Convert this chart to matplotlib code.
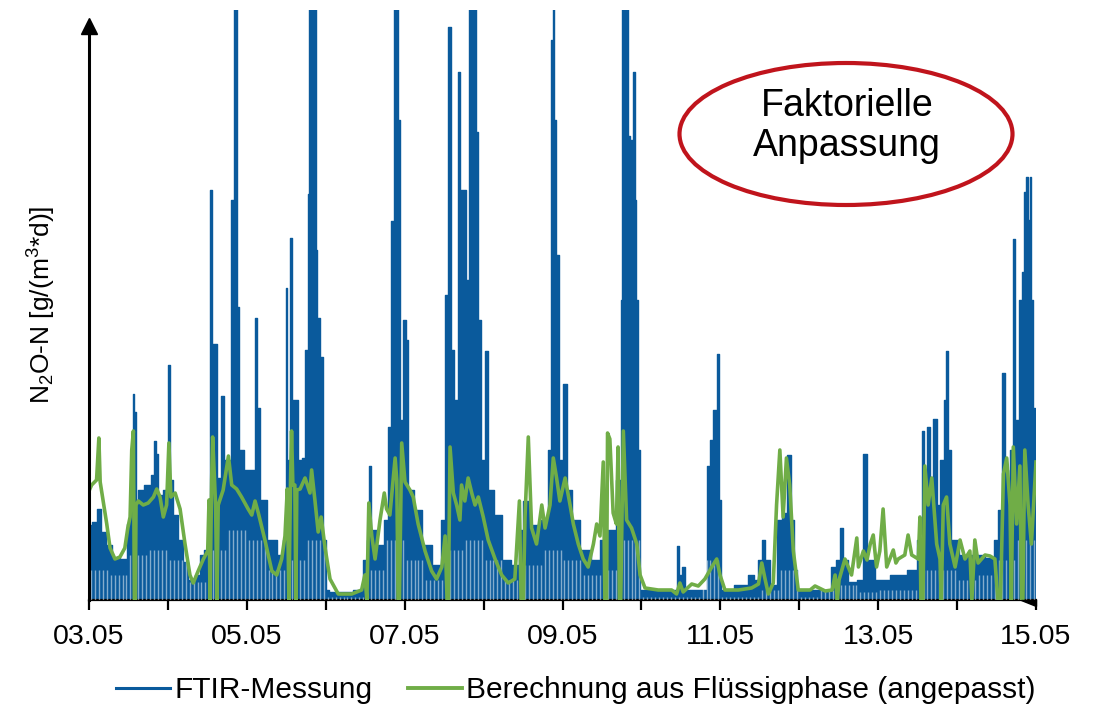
import matplotlib
matplotlib.use('Agg')
import matplotlib.pyplot as plt
from matplotlib.patches import Ellipse, Polygon
from matplotlib.lines import Line2D
import numpy as np

plt.rcParams['font.family'] = ['Liberation Sans', 'DejaVu Sans']
plt.rcParams['mathtext.fontset'] = 'custom'
plt.rcParams['mathtext.rm'] = 'Liberation Sans'
plt.rcParams['mathtext.it'] = 'Liberation Sans:italic'

# ---------------- data ----------------
tick_labels = ['03.05', '05.05', '07.05', '09.05', '11.05', '13.05', '15.05']

# FTIR measurement (upper envelope), hours since 03.05 00:00
ftir_hours = [0.0, 1.8, 3.3, 4.3, 5.9, 7.9, 10.9, 12.0, 13.0, 13.5, 14.0, 14.5, 15.5, 18.0, 19.6, 20.1, 20.6, 21.6,
              23.6, 24.3, 24.8, 26.2, 27.7, 29.2, 31.2, 33.2, 34.3, 35.8, 36.6, 37.3, 37.6, 38.3, 39.3, 40.7, 41.4,
              42.9, 43.7, 44.2, 44.9, 45.4, 46.1, 48.4, 50.0, 50.7, 51.2, 51.7, 52.5, 55.6, 58.6, 59.6, 60.1, 60.6,
              61.4, 61.9, 62.9, 64.2, 65.2, 66.2, 66.7, 67.2, 68.7, 69.2, 69.7, 70.8, 71.6, 72.3, 73.8, 77.9, 82.9,
              83.9, 84.9, 85.5, 86.2, 89.0, 90.5, 91.5, 92.4, 93.1, 93.9, 94.3, 94.9, 96.1, 96.6, 97.6, 100.1, 102.2,
              106.2, 107.7, 108.8, 109.8, 110.3, 111.8, 112.6, 113.3, 114.3, 115.2, 115.9, 117.4, 117.9, 118.4, 119.9,
              120.9, 121.6, 124.5, 126.5, 130.1, 131.6, 132.6, 135.6, 138.7, 140.2, 140.9, 141.3, 141.7, 142.4, 143.2,
              145.0, 146.0, 147.8, 150.8, 154.4, 156.4, 159.0, 161.5, 162.0, 162.3, 163.6, 164.2, 165.0, 165.7, 166.3,
              166.7, 167.3, 167.9, 178.7, 179.2, 179.7, 180.7, 181.8, 187.8, 188.3, 189.4, 190.4, 191.4, 192.0, 192.6,
              199.5, 201.5, 203.0, 204.1, 205.1, 206.1, 208.1, 210.1, 211.7, 212.9, 213.9, 214.9, 215.7, 224.8, 226.3,
              227.9, 228.9, 229.7, 231.9, 235.0, 235.8, 236.4, 237.0, 241.1, 246.1, 251.2, 252.7, 253.7, 254.4, 255.2,
              256.3, 257.3, 258.3, 259.5, 260.3, 260.8, 261.5, 262.8, 266.4, 270.4, 274.5, 276.0, 277.0, 278.1, 278.9,
              279.8, 280.6, 281.4, 282.1, 283.4, 284.1, 284.6, 285.3, 285.9, 286.3, 286.9, 287.4, 288.0]
ftir_values = [7.5, 7.8, 9.1, 6.8, 5.5, 4.2, 4.1, 7.6, 10.0, 20.6, 18.8, 10.0, 11.0, 11.5, 12.5, 15.9, 14.6, 10.5,
               11.0, 23.5, 12.0, 8.5, 6.0, 3.8, 2.0, 2.5, 4.5, 5.0, 9.5, 41.0, 25.6, 25.6, 12.2, 20.4, 14.0,
               14.0, 40.0, 70.0, 70.0, 29.3, 15.0, 13.0, 13.0, 28.2, 15.0, 19.2, 10.0, 6.0, 4.5, 6.0, 31.2, 14.0,
               36.2, 20.0, 20.0, 14.0, 14.2, 25.0, 40.6, 70.0, 70.0, 35.0, 28.2, 24.3, 6.0, 1.0, 0.8, 0.8, 1.0,
               4.0, 6.0, 13.4, 7.0, 5.5, 8.0, 17.3, 37.9, 70.0, 70.0, 48.0, 18.0, 28.0, 26.0, 11.0, 9.0, 5.5,
               3.5, 8.0, 30.5, 57.3, 25.0, 20.0, 52.8, 41.0, 41.0, 32.0, 70.0, 70.0, 46.8, 28.0, 14.0,
               24.9, 11.0, 8.5, 4.0, 3.5, 7.0, 9.9, 7.5, 8.0, 15.0, 56.0, 70.0, 48.0, 34.5, 14.0,
               21.6, 11.0, 8.0, 5.0, 4.0, 6.0, 7.0, 12.0, 30.0, 70.0, 70.0, 46.4, 46.0, 52.8, 40.0,
               30.0, 15.0, 1.0, 1.0, 5.4, 2.5, 3.3, 1.0, 1.0, 13.4, 16.0, 19.0, 24.6, 10.0, 1.0,
               1.5, 2.5, 2.0, 4.0, 6.0, 4.0, 1.5, 8.0, 8.7, 14.5, 8.0, 3.0, 1.0, 1.0, 3.3,
               4.0, 7.2, 4.0, 1.8, 2.0, 14.6, 14.6, 4.0, 2.0, 2.5, 3.0, 6.0, 16.9, 11.0, 17.3,
               12.0, 18.1, 9.5, 14.0, 20.0, 24.9, 15.0, 6.0, 4.5, 4.5, 4.2, 6.0, 9.0, 22.7, 13.0,
               6.0, 15.0, 36.1, 18.0, 30.0, 32.8, 40.8, 42.3, 38.0, 42.3, 30.0, 19.2, 9.1]

# depth of the low readings between FTIR measurements, per 6-hour block
ftir_low = [3.0, 2.5, 4.5, 5.0, 4.0, 1.8, 5.0, 7.0, 6.0, 3.0, 4.0, 6.0,
            0.3, 0.3, 3.0, 6.0, 4.0, 2.0, 5.0, 6.0, 4.0, 2.0, 3.5, 5.0,
            4.0, 2.5, 3.0, 6.0, 0.3, 0.3, 0.3, 4.0, 0.3, 0.3, 1.0, 3.0,
            0.3, 1.0, 1.5, 0.8, 1.0, 1.0, 3.0, 3.0, 2.0, 2.5, 4.0, 6.0]

# calculation from liquid phase (adjusted)
calc_hours = [0.0, 0.8, 2.3, 3.0, 3.4, 4.3, 5.4, 6.4, 7.9, 9.4, 10.9, 11.8, 12.5, 13.0, 13.5, 13.8, 14.1, 14.3,
              15.0, 16.5, 18.0, 19.6, 20.6, 21.6, 22.6, 23.6, 24.3, 24.9, 26.2, 27.7, 29.2, 30.7, 31.7, 33.2,
              34.8, 36.1, 36.5, 36.8, 37.3, 37.6, 38.5, 38.9, 39.3, 40.8, 42.4, 43.4, 44.9, 46.4, 48.4, 49.5,
              50.5, 51.5, 53.5, 55.6, 57.1, 58.6, 59.6, 60.3, 60.8, 61.3, 61.6, 62.0, 62.6, 62.9, 63.2, 64.2,
              65.7, 67.2, 67.7, 68.7, 69.7, 70.6, 71.8, 73.3, 75.8, 79.9, 82.9, 83.9, 84.5, 85.1, 86.0, 87.0,
              88.5, 89.8, 90.5, 91.5, 93.1, 93.6, 94.0, 94.4, 95.1, 96.1, 97.6, 98.6, 100.1, 102.2, 104.2,
              105.7, 107.3, 108.3, 108.9, 109.3, 109.8, 110.8, 111.8, 112.8, 113.3, 114.3, 115.3, 116.4, 117.4,
              118.4, 119.9, 121.4, 123.5, 125.5, 127.5, 129.5, 130.9, 131.4, 132.1, 132.6, 133.6, 134.6, 136.1,
              137.7, 138.7, 140.2, 141.2, 142.2, 143.2, 144.8, 146.3, 147.3, 148.8, 150.3, 151.8, 153.4, 154.4,
              155.4, 156.4, 156.9, 157.4, 157.7, 158.4, 159.4, 160.4, 160.9, 161.3, 161.7, 162.5, 163.5, 165.0,
              166.6, 167.6, 169.1, 173.1, 177.2, 178.7, 179.7, 180.7, 183.3, 185.3, 187.3, 189.4, 190.9, 191.9,
              193.4, 197.5, 201.5, 203.6, 204.6, 205.6, 206.6, 208.1, 209.1, 210.1, 211.1, 212.1, 213.1, 214.2,
              215.7, 219.3, 220.8, 223.9, 226.0, 226.9, 227.6, 228.1, 229.9, 230.9, 231.9, 233.5, 234.0, 235.5,
              236.6, 237.6, 238.5, 239.5, 240.5, 241.5, 242.6, 244.6, 245.4, 246.1, 248.1, 249.1, 250.2, 252.2,
              252.7, 253.0, 253.6, 254.2, 255.2, 256.3, 257.8, 258.8, 259.2, 259.8, 260.8, 261.8, 263.4, 264.9,
              266.4, 267.9, 268.5, 269.4, 270.4, 272.5, 274.0, 275.5, 276.4, 277.2, 278.1, 279.1, 280.1, 280.5,
              281.1, 282.1, 283.1, 283.6, 284.0, 284.6, 285.6, 286.6, 287.6, 288.0]
calc_values = [10.9, 11.5, 12.0, 16.2, 11.8, 9.9, 7.6, 5.2, 4.1, 4.3, 5.2, 7.2, 8.3, 15.0, 16.9, 0.0, 0.0, 9.5,
               9.9, 9.5, 9.7, 10.3, 11.1, 10.3, 8.3, 9.5, 15.7, 10.3, 10.7, 9.1, 5.6, 2.5, 1.7, 2.9,
               4.1, 4.9, 10.0, 0.0, 12.0, 16.3, 9.5, 0.0, 9.5, 11.0, 14.4, 11.5, 11.1, 10.3, 9.1, 8.5,
               9.9, 8.7, 6.0, 2.9, 2.5, 4.1, 6.4, 11.1, 0.0, 12.0, 16.9, 11.5, 11.5, 0.0, 11.0, 11.1,
               12.2, 10.7, 13.0, 10.0, 6.8, 8.3, 5.2, 2.1, 0.6, 0.6, 1.0, 2.5, 0.0, 9.7, 6.4, 4.1,
               8.0, 10.7, 9.1, 8.5, 14.2, 12.0, 0.0, 0.0, 15.7, 11.8, 11.0, 10.3, 7.6, 4.9, 2.9,
               2.1, 3.3, 6.4, 0.0, 0.0, 15.3, 10.7, 9.5, 8.0, 11.5, 9.9, 12.2, 10.7, 9.5,
               10.3, 8.3, 6.0, 4.1, 2.5, 1.7, 2.1, 9.9, 0.0, 0.0, 8.3, 16.3, 7.2, 5.6,
               9.5, 7.2, 9.5, 14.2, 12.2, 9.9, 12.2, 9.5, 7.6, 5.6, 4.1, 3.3, 5.6, 7.6,
               6.4, 13.8, 0.0, 0.0, 16.7, 16.1, 8.7, 7.6, 15.3, 0.0, 0.0, 16.9, 8.0, 7.2,
               5.6, 2.5, 1.2, 1.0, 1.0, 0.6, 1.7, 0.8, 1.6, 1.4, 2.1, 3.3, 4.1, 2.5,
               1.0, 1.0, 1.2, 1.6, 3.7, 2.1, 0.6, 1.7, 9.5, 15.0, 8.3, 14.2, 11.5, 4.9,
               1.0, 1.0, 1.4, 0.9, 1.0, 2.5, 0.0, 2.0, 4.1, 3.3, 2.5, 6.2, 3.3, 4.9,
               4.0, 5.6, 6.5, 3.3, 4.9, 9.1, 3.3, 5.0, 3.7, 4.1, 4.5, 6.5, 4.5, 4.1,
               8.3, 0.0, 0.0, 13.4, 9.5, 12.2, 5.6, 4.1, 0.0, 9.5, 10.3, 5.6, 3.3, 6.0,
               4.1, 4.9, 0.0, 6.0, 3.7, 4.5, 4.4, 4.1, 0.0, 0.0, 12.6, 14.2, 9.5, 0.0,
               15.3, 7.6, 13.4, 0.0, 0.0, 15.0, 9.5, 5.6, 11.5, 13.8]

BLUE = '#0a5a9c'
GREEN = '#70ad47'
RED = '#c0141c'

# ---------------- figure ----------------
fig = plt.figure(figsize=(11.01, 7.12), dpi=100)
ax = fig.add_axes([89 / 1101, 1 - 600 / 712, 947 / 1101, 590 / 712])

ax.fill_between(ftir_hours, 0, ftir_values, color=BLUE, lw=0, step='mid', zorder=2)
ax.plot(ftir_hours, ftir_values, color=BLUE, lw=1.0, drawstyle='steps-mid', zorder=2)

# gaps between alternating measurements (low readings)
gap_t = np.arange(0.6, 288, 1.2)
gap_h = [ftir_low[int(t // 6)] for t in gap_t]
ax.vlines(gap_t, 0, gap_h, color='white', alpha=0.5, lw=1.0, zorder=3)

ax.plot(calc_hours, calc_values, color=GREEN, lw=2.6, zorder=4)

ax.set_xlim(0, 288)
ax.set_ylim(0, 59)

for s in ['top', 'right']:
    ax.spines[s].set_visible(False)
ax.spines['left'].set_linewidth(2.2)
ax.spines['bottom'].set_linewidth(1.6)
ax.spines['left'].set_zorder(5)
ax.spines['left'].set_bounds(0, 57.5)

ax.set_yticks([])
ax.set_xticks(np.arange(0, 289, 48))
ax.set_xticklabels(tick_labels, fontsize=20.5)
ax.set_xticks(np.arange(24, 289, 48), minor=True)
ax.tick_params(axis='x', which='both', direction='out', length=7, width=1.6, pad=10)

# y-axis arrowhead
ax.plot([0], [57.4], marker='^', ms=12, color='black', clip_on=False, zorder=6)
# x-axis arrowhead (partially hidden)
ax.add_patch(Polygon([[283.5, 0], [288, 0], [288, -0.6]], closed=True, color='black',
                     clip_on=False, zorder=6))

ax.set_ylabel(r'N$_2$O-N [g/(m$^3$*d)]', fontsize=19, labelpad=22)

# annotation ellipse
ell = Ellipse((846 / 1101, 1 - 134 / 712), 333 / 1101, 142 / 712, transform=fig.transFigure,
              fill=False, edgecolor=RED, lw=3.0, zorder=10)
fig.patches.append(ell)
fig.text(847 / 1101, 1 - 126 / 712, 'Faktorielle\nAnpassung', ha='center', va='center',
         fontsize=27, linespacing=1.12)

handles = [Line2D([], [], color=BLUE, lw=2.2), Line2D([], [], color=GREEN, lw=2.8)]
fig.legend(handles, ['FTIR-Messung', 'Berechnung aus Flüssigphase (angepasst)'],
           loc='center', bbox_to_anchor=(576 / 1101, 1 - 690 / 712), ncol=2, frameon=False,
           fontsize=21.5, handlelength=1.8, handletextpad=0.15, columnspacing=1.2)

fig.savefig('out.png', dpi=100)
